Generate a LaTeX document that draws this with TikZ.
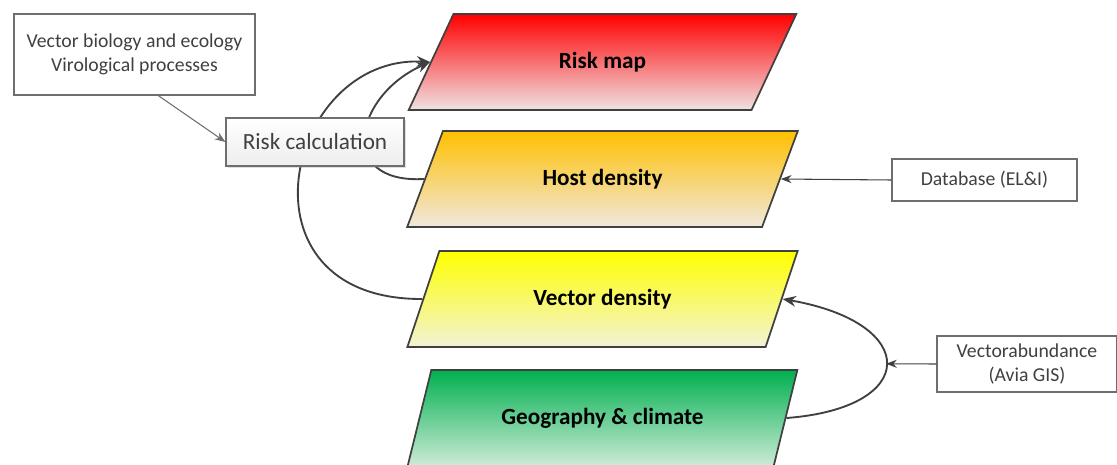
\documentclass[tikz,border=0pt]{standalone}
\usepackage{fontspec}
\setmainfont{Carlito}
\usetikzlibrary{shapes.geometric,arrows.meta,shadows}
\definecolor{linegray}{RGB}{64,64,64}
\definecolor{boxgray}{RGB}{110,110,110}
\definecolor{riskred}{RGB}{255,0,0}
\definecolor{riskpale}{RGB}{240,226,228}
\definecolor{hostorange}{RGB}{255,192,0}
\definecolor{hostpale}{RGB}{240,232,222}
\definecolor{vecyellow}{RGB}{255,255,0}
\definecolor{vecpale}{RGB}{242,242,214}
\definecolor{geogreen}{RGB}{0,176,80}
\definecolor{geopale}{RGB}{205,235,215}
\begin{document}
\begin{tikzpicture}[x=0.75pt, y=-0.75pt,
  layer/.style={trapezium, trapezium left angle=63.4, trapezium right angle=116.6,
    trapezium stretches=true, minimum width=293pt, minimum height=72pt,
    draw=linegray, line width=1.3pt, font=\fontsize{17.4}{20}\selectfont\bfseries},
  infobox/.style={rectangle, draw=boxgray, line width=0.8pt, fill=white, align=center,
    text=linegray, font=\fontsize{14.8}{18.5}\selectfont},
  link/.style={draw=linegray, line width=1.4pt, -{Stealth[length=10pt, width=8pt]}},
  feed/.style={draw=linegray, line width=0.8pt, -{Stealth[length=8pt, width=6pt]}}]
  \useasboundingbox (0,0) rectangle (1117,464);
  \clip (0,0) rectangle (1117,464);
  % Layers
  \node (rm) [layer, top color=riskred, bottom color=riskpale] at (602.5,62) {Risk map};
  \node (hd) [layer, top color=hostorange, bottom color=hostpale] at (602.5,179) {Host density};
  \node (vd) [layer, top color=vecyellow, bottom color=vecpale] at (602.5,299) {Vector density};
  \node (ge) [layer, top color=geogreen, bottom color=geopale] at (602.5,418) {Geography \& climate};
  % Curves to the risk map
  \draw[link] (hd.left side) .. controls (335,184) and (355,95) .. (rm.left side);
  \draw[link] (vd.left side) .. controls (230,300) and (285,55) .. (rm.left side);
  % Boxes
  \node (rc) [rectangle, draw=boxgray, line width=0.8pt, top color=white, bottom color=black!7,
    drop shadow={opacity=0.25, shadow xshift=1.5pt, shadow yshift=-1.5pt},
    minimum width=133.5pt, minimum height=36pt, text=linegray,
    font=\fontsize{17.4}{20}\selectfont] at (315,142) {Risk calculation};
  \node (vb) [infobox, minimum width=180.75pt, minimum height=60.75pt] at (134.5,54.5)
    {Vector biology and ecology\\Virological processes};
  \node (db) [infobox, minimum width=138.75pt, minimum height=31.5pt] at (984.5,180) {Database (EL\&I)};
  \node (va) [infobox, minimum width=135pt, minimum height=42pt] at (1027,364) {Vectorabundance\\(Avia GIS)};
  % Arrows
  \draw[feed, draw=boxgray] (vb.-60) -- (rc.west);
  \draw[feed] (db.west) -- (hd.right side);
  \draw[link] (ge.right side) .. controls (920,408) and (920,323) .. (vd.right side)
    coordinate[pos=0.5] (bend);
  \draw[feed] (va.west) -- (bend);
\end{tikzpicture}
\end{document}
